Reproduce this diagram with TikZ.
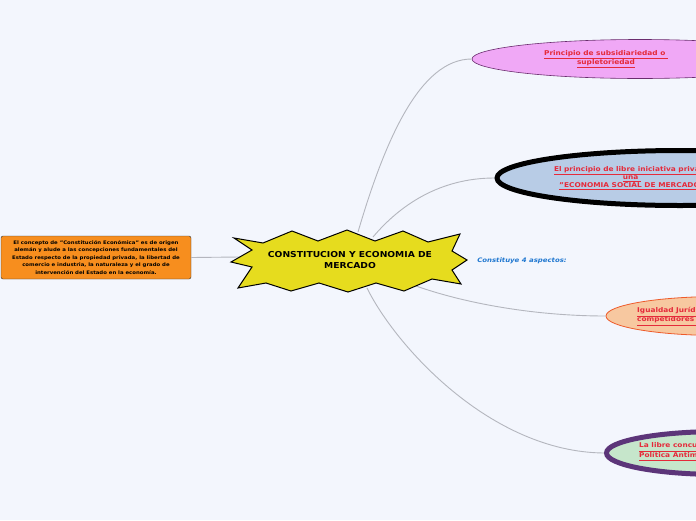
\documentclass[tikz,border=0pt]{standalone}
\usepackage{fontspec}
\setmainfont{DejaVu Sans}[FakeStretch=1.12]
\usepackage{tikz}
\usetikzlibrary{shapes.geometric}
\definecolor{paper}{HTML}{F3F6FD}
\definecolor{wire}{HTML}{B4B6BE}
\definecolor{starfill}{HTML}{E6DC1E}
\definecolor{boxfill}{HTML}{F78E1E}
\definecolor{pinkfill}{HTML}{F0A8F6}
\definecolor{pinkline}{HTML}{6A2D6E}
\definecolor{bluefill}{HTML}{B8CCE6}
\definecolor{peachfill}{HTML}{F7C8A0}
\definecolor{peachline}{HTML}{EE5A2A}
\definecolor{greenfill}{HTML}{C6E6CB}
\definecolor{greenline}{HTML}{5C3579}
\definecolor{linkred}{HTML}{E52A3A}
\definecolor{noteblue}{HTML}{1F77D0}

\begin{document}
\begin{tikzpicture}[
  x=1pt,y=-1pt,
  wirestyle/.style={draw=wire,line width=0.9pt},
  topic/.style={ellipse,inner sep=0pt},
  link/.style={font=\fontsize{6.6}{9}\selectfont\bfseries,text=linkred,inner sep=0pt},
  note/.style={font=\fontsize{6.2}{8}\selectfont\bfseries\itshape,text=noteblue,inner sep=0pt}
]
\fill[paper] (0,0) rectangle (696,520);
\clip (0,0) rectangle (696,520);

% topics on the right
\node[topic,fill=pinkfill,draw=pinkline,line width=0.6pt,
      minimum width=336pt,minimum height=39pt] (subs) at (640,59) {};
\node[topic,fill=bluefill,draw=black,line width=5pt,
      minimum width=366pt,minimum height=55pt] (libre) at (680,178) {};
\node[topic,fill=peachfill,draw=peachline,line width=0.8pt,
      minimum width=228pt,minimum height=39pt] (igual) at (720,316) {};
\node[topic,fill=greenfill,draw=greenline,line width=5pt,
      minimum width=227pt,minimum height=43pt] (concu) at (720,453) {};

\node[draw=black!80,fill=boxfill,rounded corners=2pt,minimum width=190pt,
      minimum height=43pt,align=center,inner sep=0pt,
      font=\fontsize{4.8}{7.5}\selectfont\bfseries] (concept) at (96,257.5)
  {El concepto de "Constitución Económica" es de origen\\
   alemán y alude a las concepciones fundamentales del\\
   Estado respecto de la propiedad privada, la libertad de\\
   comercio e industria, la naturaleza y el grado de\\
   intervención del Estado en la economía.};

% star anchors
\coordinate (starL) at (240,257);
\coordinate (starA) at (358,232);
\coordinate (starB) at (373,237);
\coordinate (starC) at (416,286);
\coordinate (starD) at (367,288);

\draw[wirestyle] (concept.east) -- (starL);
\draw[wirestyle] (starA) .. controls (385,140) and (420,59) .. (subs.west);
\draw[wirestyle] (starB) .. controls (400,205) and (440,178) .. (libre.west);
\draw[wirestyle] (starC) .. controls (470,305) and (540,316) .. (igual.west);
\draw[wirestyle] (starD) .. controls (395,345) and (490,452) .. (concu.west);

% central star
\filldraw[fill=starfill,draw=black,line width=1pt,line join=miter]
  (234,238) -- (263,243) -- (292,231) -- (318,241) -- (347,230) -- (375,241)
  -- (403,231) -- (428,242) -- (460,234) -- (452,251) -- (467,260) -- (452,270)
  -- (461,284) -- (432,279) -- (404,291) -- (376,283) -- (348,292) -- (319,283)
  -- (291,291) -- (266,283) -- (238,288) -- (252,267) -- (231,262) -- (252,250)
  -- cycle;
\node[font=\fontsize{8.2}{11}\selectfont\bfseries,align=center,inner sep=0pt]
  (core) at (350,260.5) {CONSTITUCION Y ECONOMIA DE\\MERCADO};

\node[note] (aspects) at (522,261) {Constituye 4 aspectos:};

% topic texts
\node[link,align=center] (subs-t) at (606,59.5)
  {\underline{Principio de subsidiariedad o\ }\\\underline{supletoriedad}};
\node[link,align=center,font=\fontsize{6.6}{8}\selectfont\bfseries] (libre-t) at (632,178)
  {\underline{El principio de libre iniciativa privada}\\\underline{una\ }\\
   \underline{"ECONOMIA SOCIAL DE MERCADO"}};
\node[link,align=left,anchor=west] (igual-t) at (637,316.5)
  {\underline{Igualdad Jurídica de los}\\\underline{competidores (Art. 60)}};
\node[link,align=left,anchor=west,font=\fontsize{6.6}{8}\selectfont\bfseries] (concu-t) at (639,452)
  {\underline{La libre concurrencia y}\\\underline{Política Antimonopolio}};
\end{tikzpicture}
\end{document}
